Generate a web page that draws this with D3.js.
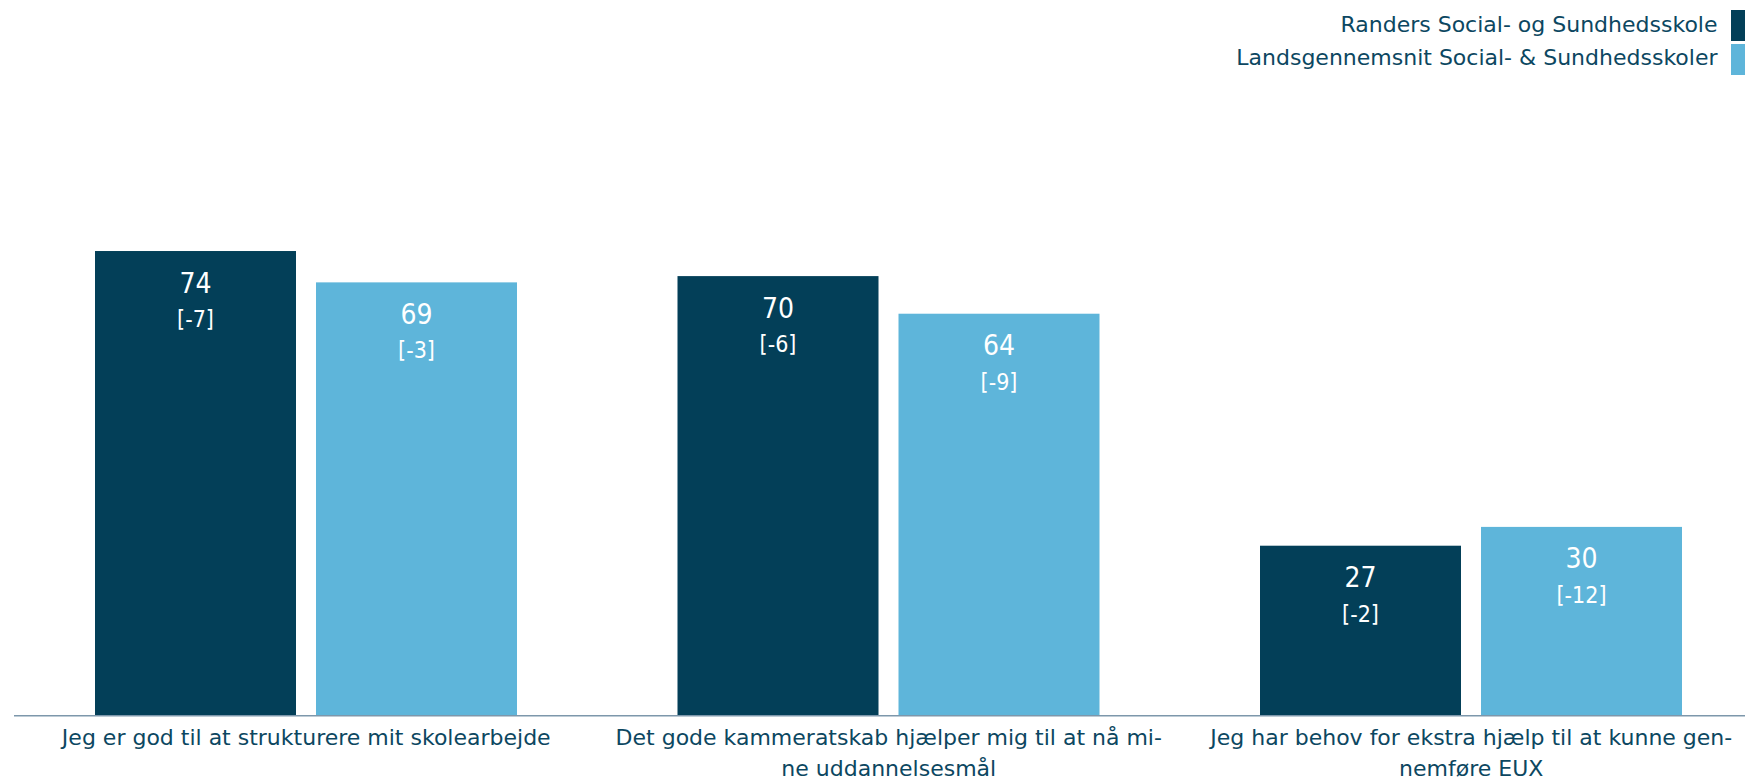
<!DOCTYPE html>
<html lang="da">
<head>
<meta charset="utf-8">
<script src="https://cdn.jsdelivr.net/npm/d3@7"></script>
<style>
  html, body { margin: 0; padding: 0; background: #ffffff; }
  svg { display: block; }
  text { font-family: "DejaVu Sans", sans-serif; }
  text.val, text.chg { font-family: "DejaVu Sans Condensed", "DejaVu Sans", sans-serif; }
</style>
</head>
<body>
<svg id="chart" width="1745" height="782"></svg>
<script>
// Spørgsmål (kategorier) – hver linje er en linje i aksens etiket
const categories = ["q1", "q2", "q3"];
const categoryLabels = [
  ["Jeg er god til at strukturere mit skolearbejde"],
  ["Det gode kammeratskab hjælper mig til at nå mi-", "ne uddannelsesmål"],
  ["Jeg har behov for ekstra hjælp til at kunne gen-", "nemføre EUX"]
];

// Serier
const seriesNames = ["Randers Social- og Sundhedsskole", "Landsgennemsnit Social- & Sundhedsskoler"];
const randersValues = [74, 70, 27];
const randersChange = [-7, -6, -2];
const landsValues = [69, 64, 30];
const landsChange = [-3, -9, -12];

const colors = ["#033f58", "#5eb5da"];
const textColor = "#0c4761";

const svg = d3.select("#chart");
const W = 1745, H = 782;
const baseY = 715;

const rows = categories.map((c, i) => ({
  key: c,
  label: categoryLabels[i],
  bars: [
    { s: 0, value: randersValues[i], change: randersChange[i] },
    { s: 1, value: landsValues[i], change: landsChange[i] }
  ]
}));

// Skalaer
const x0 = d3.scaleBand().domain(categories).range([15, 1762.5]).padding(0);
const x1 = d3.scaleBand().domain([0, 1]).range([80, 502]).paddingInner(0.0905).paddingOuter(0);
const y = d3.scaleLinear().domain([0, 100]).range([baseY, 88]);

// Søjler
const groups = svg.append("g").selectAll("g")
  .data(rows).join("g")
  .attr("transform", d => `translate(${x0(d.key)},0)`);

groups.selectAll("rect")
  .data(d => d.bars).join("rect")
  .attr("x", b => x1(b.s))
  .attr("y", b => y(b.value))
  .attr("width", x1.bandwidth())
  .attr("height", b => y(0) - y(b.value))
  .attr("fill", b => colors[b.s]);

// Værdietiketter
groups.selectAll("text.val")
  .data(d => d.bars).join("text")
  .attr("class", "val")
  .attr("x", b => x1(b.s) + x1.bandwidth() / 2)
  .attr("y", b => y(b.value) + 41.5)
  .attr("text-anchor", "middle")
  .attr("fill", "#ffffff")
  .attr("font-size", 28)
  .text(b => b.value);

groups.selectAll("text.chg")
  .data(d => d.bars).join("text")
  .attr("class", "chg")
  .attr("x", b => x1(b.s) + x1.bandwidth() / 2)
  .attr("y", b => y(b.value) + 76)
  .attr("text-anchor", "middle")
  .attr("fill", "#ffffff")
  .attr("font-size", 23)
  .text(b => `[${b.change}]`);

// x-akse
const xAxis = svg.append("g")
  .attr("transform", `translate(0,${baseY})`)
  .call(d3.axisBottom(x0).tickSize(0).tickFormat(""));
xAxis.select(".domain").remove();
xAxis.append("line")
  .attr("x1", 14).attr("x2", W)
  .attr("y1", 0.75).attr("y2", 0.75)
  .attr("stroke", "#7d97ab").attr("stroke-width", 1.5);

xAxis.selectAll(".tick").each(function(d, i) {
  const t = d3.select(this).select("text")
    .attr("fill", textColor)
    .attr("font-size", 22)
    .attr("y", 30)
    .attr("dy", 0);
  t.selectAll("tspan")
    .data(categoryLabels[i]).join("tspan")
    .attr("x", 0)
    .attr("dy", (l, j) => j === 0 ? 0 : 31)
    .text(l => l);
});

// Forklaring
const legend = svg.append("g");
seriesNames.forEach((name, i) => {
  legend.append("rect")
    .attr("x", 1731).attr("y", 10 + i * 34)
    .attr("width", 18).attr("height", 31)
    .attr("fill", colors[i]);
  legend.append("text")
    .attr("x", 1717.5).attr("y", 32 + i * 33)
    .attr("text-anchor", "end")
    .attr("fill", textColor)
    .attr("font-size", 22)
    .text(name);
});
</script>
</body>
</html>
